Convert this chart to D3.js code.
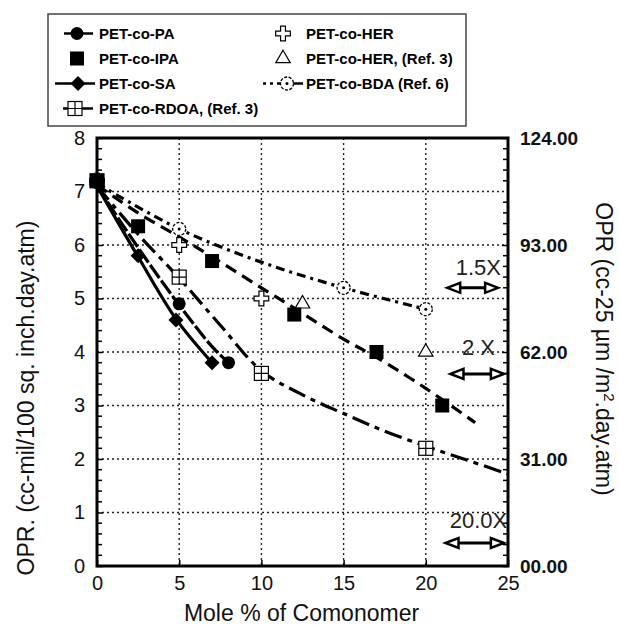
<!DOCTYPE html>
<html>
<head>
<meta charset="utf-8">
<script src="https://cdn.jsdelivr.net/npm/d3@7"></script>
<style>
  body { margin: 0; background: #fff; }
  text { font-family: "Liberation Sans", Arial, sans-serif; }
</style>
</head>
<body>
<div id="svg-container"></div>
<script>
// Chart size
const width = 619;
const height = 625;
const plot = { left: 97, right: 508, top: 138, bottom: 566 };

// Measured points (mole %, OPR)
const paX = [0, 5, 8];
const paY = [7.2, 4.9, 3.8];
const ipaX = [0, 2.5, 7, 12, 17, 21];
const ipaY = [7.2, 6.35, 5.7, 4.7, 4.0, 3.0];
const saX = [0, 2.5, 4.8, 7];
const saY = [7.2, 5.8, 4.6, 3.8];
const rdoaX = [0, 5, 10, 20];
const rdoaY = [7.2, 5.4, 3.6, 2.2];
const herX = [0, 5, 10];
const herY = [7.2, 6.0, 5.0];
const herRefX = [0, 12.5, 20];
const herRefY = [7.2, 4.9, 4.0];
const bdaX = [0, 5, 15, 20];
const bdaY = [7.2, 6.3, 5.2, 4.8];

// Fitted trend lines
const saFitX = [0, 2.5, 4.8, 7];
const saFitY = [7.1, 5.78, 4.62, 3.8];
const paFitX = [0, 2.5, 4.9, 7, 8];
const paFitY = [7.1, 5.95, 4.92, 4.1, 3.8];
const rdoaFitX = [0, 2.5, 5, 7.5, 10, 12.5, 15, 17.5, 20, 22.5, 25];
const rdoaFitY = [7.1, 6.2, 5.38, 4.5, 3.65, 3.2, 2.85, 2.52, 2.24, 1.98, 1.72];
const ipaFitX = [0, 2.5, 5, 7, 10, 12, 15, 17, 20, 23];
const ipaFitY = [7.12, 6.6, 6.15, 5.78, 5.2, 4.82, 4.24, 3.9, 3.32, 2.68];
const bdaFitX = [0, 5, 10, 15, 20];
const bdaFitY = [7.15, 6.3, 5.68, 5.2, 4.8];

// Axis ticks
const xTicks = [0, 5, 10, 15, 20, 25];
const yTicks = [0, 1, 2, 3, 4, 5, 6, 7, 8];
const rightTicks = [0, 31, 62, 93, 124];
const rightTickLabels = ["00.00", "31.00", "62.00", "93.00", "124.00"];

// Improvement-factor annotations
const annLabels = ["1.5X", "2 X", "20.0X"];
const annTextX = [23.2, 23.2, 23.2];
const annTextY = [5.44, 3.94, 0.71];
const annArrowY = [5.2, 3.59, 0.43];
const annArrowX1 = [21.3, 21.5, 21.2];
const annArrowX2 = [24.4, 24.75, 24.75];

const seriesNames = ["PET-co-PA", "PET-co-IPA", "PET-co-SA", "PET-co-RDOA, (Ref. 3)",
                     "PET-co-HER", "PET-co-HER, (Ref. 3)", "PET-co-BDA (Ref. 6)"];

const zip = (xs, ys) => xs.map((x, i) => ({ x: x, y: ys[i] }));

const series = [
  { name: seriesNames[0], sym: "circle", pts: zip(paX, paY) },
  { name: seriesNames[1], sym: "square", pts: zip(ipaX, ipaY) },
  { name: seriesNames[2], sym: "diamond", pts: zip(saX, saY) },
  { name: seriesNames[3], sym: "squareCross", pts: zip(rdoaX, rdoaY) },
  { name: seriesNames[4], sym: "cross", pts: zip(herX, herY) },
  { name: seriesNames[5], sym: "triangle", pts: zip(herRefX, herRefY) },
  { name: seriesNames[6], sym: "dotCircle", pts: zip(bdaX, bdaY) }
];

const fits = [
  { pts: zip(ipaFitX, ipaFitY), dash: "12,7" },
  { pts: zip(bdaFitX, bdaFitY), dash: "9,5,3,5" },
  { pts: zip(rdoaFitX, rdoaFitY), dash: "18,6,5,6" },
  { pts: zip(paFitX, paFitY), dash: "16,3" },
  { pts: zip(saFitX, saFitY), dash: null }
];

const xScale = d3.scaleLinear().domain([0, 25]).range([plot.left, plot.right]);
const yScale = d3.scaleLinear().domain([0, 8]).range([plot.bottom, plot.top]);
const yRight = d3.scaleLinear().domain([0, 124]).range([plot.bottom, plot.top]);

const svg = d3.select("#svg-container")
  .append("svg")
    .attr("width", width)
    .attr("height", height);

// Grid
svg.append("g")
  .selectAll("line")
  .data(yTicks.filter(d => d > 0 && d < 8))
  .enter().append("line")
    .attr("x1", plot.left).attr("x2", plot.right)
    .attr("y1", d => yScale(d)).attr("y2", d => yScale(d))
    .attr("stroke", "#222").attr("stroke-width", 1.4)
    .attr("stroke-dasharray", "2,3");

svg.append("g")
  .selectAll("line")
  .data(xTicks.filter(d => d > 0 && d < 25))
  .enter().append("line")
    .attr("x1", d => xScale(d)).attr("x2", d => xScale(d))
    .attr("y1", plot.top).attr("y2", plot.bottom)
    .attr("stroke", "#222").attr("stroke-width", 1.4)
    .attr("stroke-dasharray", "2,3");

// Minor ticks on both vertical axes
const minor = d3.range(0, 8.001, 0.2).filter(d => Math.abs(d - Math.round(d)) > 0.01);
const tickG = svg.append("g").attr("stroke", "#000").attr("stroke-width", 1.5);
tickG.selectAll(".ml").data(minor).enter().append("line")
  .attr("x1", plot.left).attr("x2", plot.left + 5)
  .attr("y1", d => yScale(d)).attr("y2", d => yScale(d));
tickG.selectAll(".mr").data(minor).enter().append("line")
  .attr("x1", plot.right).attr("x2", plot.right - 5)
  .attr("y1", d => yScale(d)).attr("y2", d => yScale(d));

// Axes
const xAxis = svg.append("g")
  .attr("transform", `translate(0, ${plot.bottom})`)
  .call(d3.axisBottom(xScale).tickValues(xTicks).tickSize(-6).tickPadding(10));

const yAxis = svg.append("g")
  .attr("transform", `translate(${plot.left}, 0)`)
  .call(d3.axisLeft(yScale).tickValues(yTicks).tickSize(-6).tickPadding(12));

const rAxis = svg.append("g")
  .attr("transform", `translate(${plot.right}, 0)`)
  .call(d3.axisRight(yRight).tickValues(rightTicks).tickSize(-6).tickPadding(12)
    .tickFormat((d, i) => rightTickLabels[i]));

[xAxis, yAxis, rAxis].forEach(g => {
  g.select(".domain").remove();
  g.selectAll("line").attr("stroke", "#000").attr("stroke-width", 1.5);
  g.selectAll("text").attr("fill", "#111").style("font-size", "20px");
});
rAxis.selectAll("text").style("font-size", "19px").style("font-weight", "bold");

// Frame
svg.append("rect")
  .attr("x", plot.left).attr("y", plot.top)
  .attr("width", plot.right - plot.left).attr("height", plot.bottom - plot.top)
  .attr("fill", "none").attr("stroke", "#000").attr("stroke-width", 3);

// Fit lines
const line = d3.line()
  .x(d => xScale(d.x))
  .y(d => yScale(d.y))
  .curve(d3.curveCatmullRom);

svg.append("g")
  .selectAll("path")
  .data(fits)
  .enter().append("path")
    .attr("d", d => line(d.pts))
    .attr("fill", "none")
    .attr("stroke", "#000")
    .attr("stroke-width", 3.2)
    .attr("stroke-dasharray", d => d.dash);

// Marker drawing
function drawMarker(g, sym) {
  if (sym === "circle") {
    g.append("circle").attr("r", 6.5).attr("fill", "#000");
  } else if (sym === "square") {
    g.append("rect").attr("x", -7).attr("y", -7).attr("width", 14).attr("height", 14).attr("fill", "#000");
  } else if (sym === "diamond") {
    g.append("path").attr("d", "M0,-7.5L7.5,0L0,7.5L-7.5,0Z").attr("fill", "#000");
  } else if (sym === "squareCross") {
    g.append("rect").attr("x", -7).attr("y", -7).attr("width", 14).attr("height", 14)
      .attr("fill", "#fff").attr("stroke", "#000").attr("stroke-width", 1.2);
    g.append("path").attr("d", "M0,-7V7M-7,0H7").attr("stroke", "#000").attr("stroke-width", 1.2);
  } else if (sym === "cross") {
    g.append("path").attr("d", d3.symbol(d3.symbolCross, 120)())
      .attr("fill", "#fff").attr("stroke", "#000").attr("stroke-width", 1.2);
  } else if (sym === "triangle") {
    g.append("path").attr("d", d3.symbol(d3.symbolTriangle, 90)())
      .attr("fill", "#fff").attr("stroke", "#000").attr("stroke-width", 1.2);
  } else if (sym === "dotCircle") {
    g.append("circle").attr("r", 6.5).attr("fill", "#fff")
      .attr("stroke", "#000").attr("stroke-width", 1.3).attr("stroke-dasharray", "3,1.5");
    g.append("circle").attr("r", 1.5).attr("fill", "#000");
  }
}

// Points
series.slice().reverse().forEach(s => {
  svg.append("g")
    .selectAll("g")
    .data(s.pts)
    .enter().append("g")
      .attr("transform", d => `translate(${xScale(d.x)}, ${yScale(d.y)})`)
      .each(function() { drawMarker(d3.select(this), s.sym); });
});

// Annotation arrows
const arrows = annLabels.map((l, i) => ({
  label: l, tx: annTextX[i], ty: annTextY[i], ay: annArrowY[i], x1: annArrowX1[i], x2: annArrowX2[i]
}));

const annG = svg.append("g");
annG.selectAll("text")
  .data(arrows)
  .enter().append("text")
    .attr("x", d => xScale(d.tx))
    .attr("y", d => yScale(d.ty))
    .attr("text-anchor", "middle")
    .style("font-size", "22px")
    .attr("fill", "#222")
    .text(d => d.label);

arrows.forEach(d => {
  const y = yScale(d.ay), a = xScale(d.x1), b = xScale(d.x2);
  annG.append("line").attr("x1", a + 6).attr("x2", b - 6).attr("y1", y).attr("y2", y)
    .attr("stroke", "#000").attr("stroke-width", 3);
  annG.append("path").attr("d", `M${a},${y}L${a + 13},${y - 5}L${a + 13},${y + 5}Z`)
    .attr("fill", "#fff").attr("stroke", "#000").attr("stroke-width", 2.5);
  annG.append("path").attr("d", `M${b},${y}L${b - 13},${y - 5}L${b - 13},${y + 5}Z`)
    .attr("fill", "#fff").attr("stroke", "#000").attr("stroke-width", 2.5);
});

// Axis titles
svg.append("text")
  .attr("x", (plot.left + plot.right) / 2 - 1)
  .attr("y", 621)
  .attr("text-anchor", "middle")
  .style("font-size", "23px")
  .attr("fill", "#111")
  .text("Mole % of Comonomer");

svg.append("text")
  .attr("transform", "translate(34, 398) rotate(-90)")
  .attr("text-anchor", "middle")
  .style("font-size", "23px")
  .attr("fill", "#111")
  .text("OPR. (cc-mil/100 sq. inch.day.atm)");

const rt = svg.append("text")
  .attr("transform", "translate(596, 349) rotate(90)")
  .attr("text-anchor", "middle")
  .style("font-size", "23px")
  .attr("fill", "#111");
rt.append("tspan").text("OPR (cc-25 \u00b5m /m");
rt.append("tspan").attr("dy", -8).style("font-size", "15px").text("2");
rt.append("tspan").attr("dy", 8).text(".day.atm)");

// Legend
svg.append("rect")
  .attr("x", 48).attr("y", 14).attr("width", 418).attr("height", 112)
  .attr("fill", "#fff").attr("stroke", "#444").attr("stroke-width", 1.5);

const legendRows = [0, 1, 2, 3, 0, 1, 2];
const legendCols = [0, 0, 0, 0, 1, 1, 1];
const legendLine = [[64, 93], null, [55, 95], [63, 93], null, null, [263, 303]];
const legendMarkX = [77, 77, 78, 75, 283, 283, 287];

const leg = svg.append("g");
series.forEach((s, i) => {
  const base = 39 + legendRows[i] * 25;
  const cy = base - 5.5;
  const tx = legendCols[i] === 0 ? 99 : 306;
  if (legendLine[i]) {
    leg.append("line")
      .attr("x1", legendLine[i][0]).attr("x2", legendLine[i][1])
      .attr("y1", cy).attr("y2", cy)
      .attr("stroke", "#000").attr("stroke-width", 2.5)
      .attr("stroke-dasharray", s.sym === "dotCircle" ? "3,4,3,4,40" : null);
  }
  const m = leg.append("g").attr("transform", `translate(${legendMarkX[i]}, ${cy})`);
  drawMarker(m, s.sym);
  leg.append("text")
    .attr("x", tx).attr("y", base)
    .style("font-size", "15px").style("font-weight", "bold")
    .attr("fill", "#000")
    .text(s.name);
});
</script>
</body>
</html>
